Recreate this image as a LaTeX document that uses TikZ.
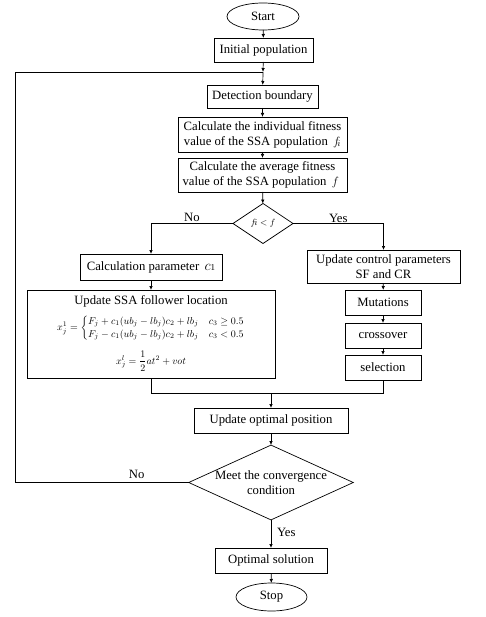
\documentclass[tikz,border=0pt]{standalone}
\usepackage{amsmath}
\usepackage{fontspec}
\setmainfont{Liberation Serif}
\usetikzlibrary{arrows.meta,shapes.geometric}
\begin{document}
\begin{tikzpicture}[x=1pt,y=-1pt,
  every node/.style={inner sep=0pt,outer sep=0pt},
  box/.style={draw,line width=0.7pt,rectangle,align=center,font=\fontsize{12.7}{15}\selectfont},
  term/.style={draw,line width=0.7pt,ellipse,font=\fontsize{12.7}{15}\selectfont},
  dec/.style={draw,line width=0.7pt,diamond,aspect=1.5,align=center,font=\fontsize{12.7}{15}\selectfont},
  lbl/.style={font=\fontsize{12.7}{15}\selectfont},
  arr/.style={line width=0.7pt,-{Latex[length=4pt,width=3.5pt]}},
  ln/.style={line width=0.7pt}]
\useasboundingbox (0,0) rectangle (486,617);
\node[term,minimum width=72pt,minimum height=27pt] (start) at (263,16.5) {Start};
\node[box,minimum width=99pt,minimum height=24pt] (init) at (263.5,50) {Initial population};
\coordinate (J) at (263,72);
\node[box,minimum width=111pt,minimum height=23pt] (det) at (262.5,96.5) {Detection boundary};
\node[box,minimum width=169pt,minimum height=35pt] (ind) at (262.5,134.5) {Calculate the individual fitness\\value of the SSA population \,$f_{\!i}$};
\node[box,minimum width=169pt,minimum height=34pt] (avg) at (262.5,175) {Calculate the average fitness\\value of the SSA population \,$f$\hphantom{i}};
\node[dec,minimum width=60pt,minimum height=40pt,font=\fontsize{9.5}{11}\selectfont] (d1) at (263,223.5) {$f\!i<f$};
\node[box,minimum width=142pt,minimum height=26pt] (c1) at (151,267) {Calculation parameter \,{\fontsize{15}{15}\selectfont$c$}{\fontsize{9}{9}\selectfont 1}};
\node[box,minimum width=248pt,minimum height=88pt] (ssa) at (151,334) {};
\node[lbl] (ssat) at (151,301) {Update SSA follower location};
\node[font=\fontsize{10.3}{11}\selectfont] (eq1) at (151,328) {$x_j^1=\begin{cases}F_j+c_1(ub_j-lb_j)c_2+lb_j & c_3\geq 0.5\\ F_j-c_1(ub_j-lb_j)c_2+lb_j & c_3<0.5\end{cases}$};
\node[font=\fontsize{10}{11}\selectfont] (eq2) at (151,361) {$x_j^l=\dfrac{1}{2}at^2+vot$};
\node[box,minimum width=153pt,minimum height=33pt] (ucp) at (383.5,266.5) {Update control parameters\\SF and CR};
\node[box,minimum width=76pt,minimum height=25pt] (mut) at (383,302.5) {Mutations};
\node[box,minimum width=76pt,minimum height=25pt] (cro) at (383,335.5) {crossover};
\node[box,minimum width=76pt,minimum height=25pt] (sel) at (383,367.5) {selection};
\coordinate (M) at (271,393);
\node[box,minimum width=154pt,minimum height=25pt] (upd) at (271,420.5) {Update optimal position};
\node[dec,minimum width=156pt,minimum height=71pt,aspect=2.2] (d2) at (271,482.5) {Meet the convergence\\condition};
\node[box,minimum width=112pt,minimum height=25pt] (opt) at (271,560.5) {Optimal solution};
\node[term,minimum width=71pt,minimum height=28pt] (stop) at (271.5,597) {Stop};
% connectors
\draw[arr] (start) -- (init);
\draw[arr] (init) -- (J);
\draw[arr] (J) -- (det);
\draw[arr] (det) -- (ind);
\draw[arr] (ind) -- (avg);
\draw[arr] (avg) -- (d1);
\draw[arr] (d1.west) -| node[lbl,pos=0.25,above=2pt] {No} (c1.north);
\draw[arr] (d1.east) -| node[lbl,pos=0.25,above=1pt] {Yes} (ucp.north);
\draw[arr] (c1) -- (ssa);
\draw[arr] (ucp) -- (mut);
\draw[arr] (mut) -- (cro);
\draw[arr] (cro) -- (sel);
\draw[ln] (ssa.south) |- (M);
\draw[ln] (sel.south) |- (M);
\draw[arr] (M) -- (upd);
\draw[arr] (upd) -- (d2);
\draw[arr] (d2) -- node[lbl,right=6pt,pos=0.45] {Yes} (opt);
\draw[arr] (opt) -- (stop);
\draw[ln] (d2.west) -- node[lbl,pos=0.3,above=4pt] {No} (15,482.5) -- (15,72) -- (J);
\end{tikzpicture}
\end{document}
